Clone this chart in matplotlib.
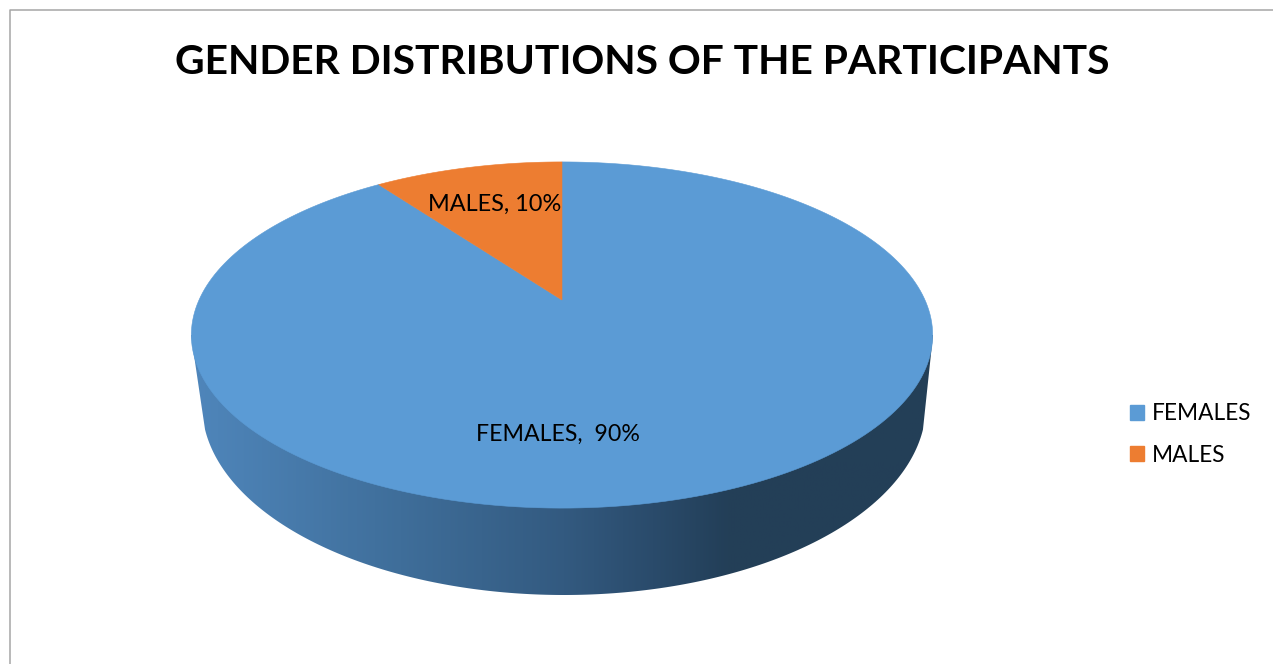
import numpy as np
import matplotlib
matplotlib.use("Agg")
import matplotlib.pyplot as plt
from matplotlib.colors import LinearSegmentedColormap
from matplotlib.patches import Patch, Polygon

plt.rcParams["font.family"] = ["Lato", "DejaVu Sans"]

# data
categories = ["FEMALES", "MALES"]
shares = [90, 10]
slice_labels = ["FEMALES,  90%", "MALES, 10%"]
slice_colors = ["#5B9BD5", "#ED7D31"]
chart_title = "GENDER DISTRIBUTIONS OF THE PARTICIPANTS"

fig = plt.figure(figsize=(12.73, 6.64), dpi=100)
ax = fig.add_axes([0, 0, 1, 1])

wedges, _ = ax.pie(shares, colors=slice_colors, startangle=90, counterclock=False)
ax.set_aspect("auto")
ax.set_xlim(0, 1273)
ax.set_ylim(664, 0)
ax.axis("off")


# tilted view of the unit circle, in pixels
def tilt(x, y):
    w = 1 + 0.2023 * y
    return 562 + 363 * x / w, 300 - 166 * y / w


# side wall with horizontal shading
t = np.linspace(np.pi - 0.13, 0.13, 200)
wall_x = np.r_[191, 564 + 362 * np.cos(t), 933]
wall_y = np.r_[335, 405 + 190 * np.sin(t), 335]
wall = Polygon(np.c_[wall_x, wall_y], closed=True, fc="none", ec="none")
ax.add_patch(wall)

shade = LinearSegmentedColormap.from_list("shade", [
    (0.00, "#4F86BB"),
    (0.28, "#3F6E9A"),
    (0.50, "#335A80"),
    (0.62, "#2A4B6B"),
    (0.72, "#233F58"),
    (1.00, "#243F57"),
])
grad = ax.imshow(np.linspace(0, 1, 256)[None, :], cmap=shade, aspect="auto",
                 extent=(191, 937, 600, 330), zorder=1)
grad.set_clip_path(wall)
ax.set_xlim(0, 1273)
ax.set_ylim(664, 0)

# top face: take the angles from the pie and redraw the slices tilted
for w, color in zip(wedges, slice_colors):
    ang = np.radians(np.linspace(w.theta1, w.theta2, 240))
    px = np.r_[0, np.cos(ang)]
    py = np.r_[0, np.sin(ang)]
    sx, sy = tilt(px, py)
    ax.add_patch(Polygon(np.c_[sx, sy], closed=True, fc=color, ec=color, lw=0.4, zorder=2))
    w.set_visible(False)

# chart area border (only top and left show)
ax.plot([9.5, 9.5, 1273], [664, 9.5, 9.5], color="#A6A6A6", lw=1.1, zorder=3)

ax.text(642.5, 62, chart_title, fontsize=29.3, fontweight="bold", color="black",
        ha="center", va="center", zorder=4)
ax.text(558, 434, slice_labels[0], fontsize=16.7, color="black", ha="center", va="center", zorder=4)
ax.text(494.5, 204, slice_labels[1], fontsize=16.9, color="black", ha="center", va="center", zorder=4)

handles = [Patch(color=c, label=n) for c, n in zip(slice_colors, categories)]
ax.legend(handles=handles, loc="center left", bbox_to_anchor=(1130 / 1273, 1 - 434.5 / 664),
          frameon=False, fontsize=16.3, handlelength=0.62, handleheight=0.62,
          handletextpad=0.33, labelspacing=0.9, borderpad=0, borderaxespad=0)

fig.savefig("out.png", dpi=100)
